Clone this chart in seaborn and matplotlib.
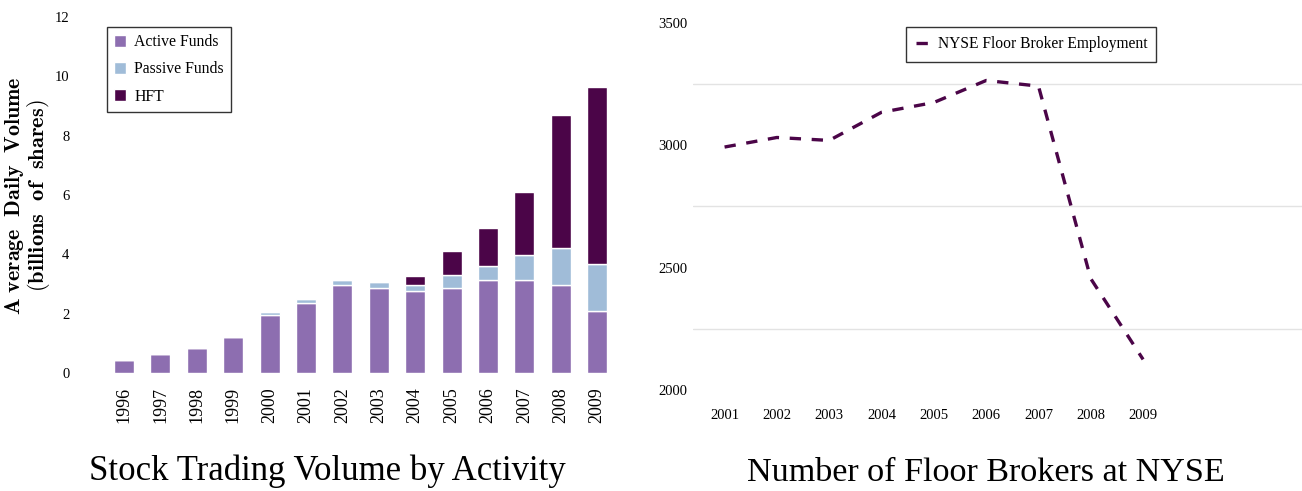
import matplotlib
matplotlib.use("Agg")
import matplotlib.pyplot as plt
from matplotlib.patches import Patch
from matplotlib.lines import Line2D
import seaborn as sns
import pandas as pd

# Stock trading volume by activity (billions of shares per day)
years = ["1996", "1997", "1998", "1999", "2000", "2001", "2002",
         "2003", "2004", "2005", "2006", "2007", "2008", "2009"]
active = [0.45, 0.65, 0.85, 1.23, 1.97, 2.36, 2.96, 2.87, 2.76, 2.87, 3.12, 3.15, 2.96, 2.10]
passive = [0.00, 0.00, 0.00, 0.00, 0.08, 0.15, 0.19, 0.19, 0.20, 0.45, 0.48, 0.83, 1.24, 1.56]
hft = [0.00, 0.00, 0.00, 0.00, 0.00, 0.00, 0.00, 0.00, 0.30, 0.79, 1.30, 2.13, 4.49, 5.99]

# NYSE floor broker employment
broker_years = [2001, 2002, 2003, 2004, 2005, 2006, 2007, 2008, 2009]
brokers = [2993, 3032, 3020, 3135, 3175, 3265, 3242, 2455, 2125]

sns.set_theme(style="white")
plt.rcParams["font.family"] = ["Liberation Serif", "DejaVu Serif"]
plt.rcParams["text.color"] = "black"
plt.rcParams["xtick.color"] = "black"
plt.rcParams["ytick.color"] = "black"
plt.rcParams["mathtext.fontset"] = "cm"

C_ACTIVE = "#8D6EB0"
C_PASSIVE = "#A0BCD8"
C_HFT = "#4B0548"

fig = plt.figure(figsize=(13.02, 4.91), dpi=100)

# ---- left panel: stacked bars ----
ax1 = fig.add_axes([0.0768, 0.2403, 0.4009, 0.725])
vol = pd.DataFrame({"year": years, "active": active, "passive": passive, "hft": hft})
bottom_p = vol["active"]
bottom_h = vol["active"] + vol["passive"]
bar_kw = dict(width=0.55, edgecolor="white", linewidth=1.0, ax=ax1, saturation=1)
sns.barplot(data=vol, x="year", y="active", color=C_ACTIVE, **bar_kw)
sns.barplot(data=vol, x="year", y="passive", bottom=bottom_p, color=C_PASSIVE, **bar_kw)
sns.barplot(data=vol, x="year", y="hft", bottom=bottom_h, color=C_HFT, **bar_kw)

ax1.set_xlim(-0.66, 13.68)
ax1.set_ylim(0, 12)
ax1.set_yticks(range(0, 13, 2))
ax1.set_xlabel("")
ax1.set_ylabel("")
for s in ax1.spines.values():
    s.set_visible(False)
ax1.tick_params(axis="x", labelrotation=90, labelsize=13, pad=10, length=0)
ax1.tick_params(axis="y", labelsize=10.5, pad=22, length=0)
ax1.grid(False)

fig.text(0.0115, 0.602, r"$\mathbf{A\ verage\ \ Daily\ \ Volume}$", rotation=90,
         ha="center", va="center", fontsize=15.8)
fig.text(0.0292, 0.602, r"$\mathbf{(billions\ \ of\ \ shares)}$", rotation=90,
         ha="center", va="center", fontsize=16.2)

handles = [Patch(facecolor=C_ACTIVE, label="Active Funds"),
           Patch(facecolor=C_PASSIVE, label="Passive Funds"),
           Patch(facecolor=C_HFT, label="HFT")]
leg1 = ax1.legend(handles=handles, loc="upper left", bbox_to_anchor=(0.013, 0.972),
                  borderaxespad=0, frameon=True, fancybox=False, fontsize=11.3,
                  handlelength=0.8, handleheight=0.8, handletextpad=0.5,
                  labelspacing=0.72, borderpad=0.45, edgecolor="black")
leg1.get_frame().set_linewidth(1.0)

fig.text(0.2515, 0.04, "Stock Trading Volume by Activity", ha="center",
         va="center", fontsize=25)

# ---- right panel: dashed line ----
ax2 = fig.add_axes([0.532, 0.2057, 0.4677, 0.7475])
emp = pd.DataFrame({"year": broker_years, "brokers": brokers})
sns.lineplot(data=emp, x="year", y="brokers", ax=ax2, color=C_HFT,
             linewidth=2.4, linestyle=(0, (3.4, 3.2)))
ax2.set_xlim(2000.39, 2012.03)
ax2.set_ylim(2000, 3500)
ax2.set_xticks(broker_years)
ax2.set_xticklabels([str(y) for y in broker_years])
ax2.set_yticks([2000, 2500, 3000, 3500])
ax2.set_yticks([2250, 2750, 3250], minor=True)
ax2.grid(False)
ax2.grid(True, which="minor", axis="y", color="#E3E3E3", linewidth=1.0)
ax2.set_xlabel("")
ax2.set_ylabel("")
for s in ax2.spines.values():
    s.set_visible(False)
ax2.tick_params(axis="both", which="both", length=0)
ax2.tick_params(axis="x", labelsize=10.5, pad=14)
ax2.tick_params(axis="y", labelsize=10.5, pad=4)

line_handle = [Line2D([0], [0], color=C_HFT, linewidth=2.4, linestyle=(0, (3.4, 3.2)),
                      label="NYSE Floor Broker Employment")]
leg2 = ax2.legend(handles=line_handle, loc="upper left", bbox_to_anchor=(0.351, 0.989),
                  borderaxespad=0, frameon=True, fancybox=False, fontsize=11.2,
                  handlelength=0.8, handletextpad=0.6, borderpad=0.6,
                  edgecolor="black")
leg2.get_frame().set_linewidth(1.0)

fig.text(0.757, 0.037, "Number of Floor Brokers at NYSE", ha="center",
         va="center", fontsize=24.6)

fig.savefig("out.png", dpi=100)
